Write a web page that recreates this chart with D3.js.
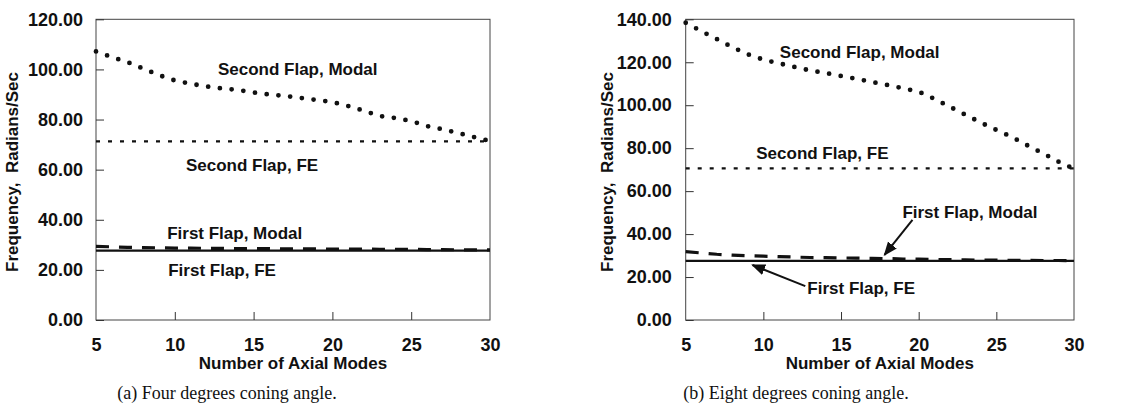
<!DOCTYPE html>
<html>
<head>
<meta charset="utf-8">
<script src="https://cdn.jsdelivr.net/npm/d3@7"></script>
<style>
  body { margin: 0; background: #fff; }
  svg { display: block; }
</style>
</head>
<body>
<script>
// number of axial modes (x values)
var modes = [5, 6, 7, 8, 9, 10, 11, 12, 13, 14, 15, 16, 17, 18, 19, 20, 21, 22, 23, 24, 25, 26, 27, 28, 29, 30];

// (a) four degrees coning angle
var secondModalA = [107.2, 104.9, 102.9, 100.3, 97.7, 95.6, 94.3, 93.2, 92.4, 91.8, 90.8, 90.0, 89.4, 88.6, 87.8, 87.0, 85.4, 83.5, 81.4, 80.6, 79.4, 77.4, 76.1, 74.6, 73.0, 71.4];
var secondFEA    = [71.3, 71.3, 71.3, 71.3, 71.3, 71.3, 71.3, 71.3, 71.3, 71.3, 71.3, 71.3, 71.3, 71.3, 71.3, 71.3, 71.3, 71.3, 71.3, 71.3, 71.3, 71.3, 71.3, 71.3, 71.3, 71.3];
var firstModalA  = [29.4, 29.2, 29.0, 28.9, 28.8, 28.7, 28.7, 28.6, 28.6, 28.5, 28.5, 28.5, 28.4, 28.4, 28.4, 28.3, 28.3, 28.3, 28.2, 28.2, 28.2, 28.1, 28.1, 28.0, 28.0, 28.0];
var firstFEA     = [27.7, 27.7, 27.7, 27.7, 27.7, 27.7, 27.7, 27.7, 27.7, 27.7, 27.7, 27.7, 27.7, 27.7, 27.7, 27.7, 27.7, 27.7, 27.7, 27.7, 27.7, 27.7, 27.7, 27.7, 27.7, 27.7];

// (b) eight degrees coning angle
var secondModalB = [138.4, 134.5, 130.8, 127.0, 123.7, 121.2, 119.5, 117.8, 116.2, 115.0, 113.6, 112.3, 110.8, 109.4, 107.9, 106.3, 103.0, 99.3, 95.6, 91.9, 88.5, 85.2, 81.3, 77.6, 73.7, 70.4];
var secondFEB    = [70.6, 70.6, 70.6, 70.6, 70.6, 70.6, 70.6, 70.6, 70.6, 70.6, 70.6, 70.6, 70.6, 70.6, 70.6, 70.6, 70.6, 70.6, 70.6, 70.6, 70.6, 70.6, 70.6, 70.6, 70.6, 70.6];
var firstModalB  = [31.8, 31.2, 30.6, 30.2, 29.9, 29.7, 29.5, 29.3, 29.1, 29.0, 28.9, 28.8, 28.7, 28.6, 28.4, 28.3, 28.2, 28.1, 28.0, 27.9, 27.9, 27.8, 27.8, 27.7, 27.7, 27.6];
var firstFEB     = [27.5, 27.5, 27.5, 27.5, 27.5, 27.5, 27.5, 27.5, 27.5, 27.5, 27.5, 27.5, 27.5, 27.5, 27.5, 27.5, 27.5, 27.5, 27.5, 27.5, 27.5, 27.5, 27.5, 27.5, 27.5, 27.5];

var xTicks = [5, 10, 15, 20, 25, 30];
var yTicksA = [0, 20, 40, 60, 80, 100, 120];
var yTicksB = [0, 20, 40, 60, 80, 100, 120, 140];

var xTitle = "Number of Axial Modes";
var yTitle = "Frequency,\u00a0\u00a0Radians/Sec";

var svg = d3.select("body").append("svg")
  .attr("width", 1140)
  .attr("height", 415);

svg.append("defs").append("marker")
  .attr("id", "arrow")
  .attr("viewBox", "0 0 10 10")
  .attr("refX", 9).attr("refY", 5)
  .attr("markerWidth", 7).attr("markerHeight", 7)
  .attr("markerUnits", "strokeWidth")
  .attr("orient", "auto")
  .append("path")
  .attr("d", "M0,1 L10,5 L0,9 Z")
  .attr("fill", "#111");

// line styles: width, dash
var styles = {
  secondModal: { w: 4.8, dash: "0,11.8", cap: "round" },
  secondFE:    { w: 2.2, dash: "4,8", cap: "butt" },
  firstModal:  { w: 3.2, dash: "13,10", cap: "butt" },
  firstFE:     { w: 2.2, dash: null, cap: "butt" }
};

var sans = "'Liberation Sans', Arial, sans-serif";

function drawPanel(p) {
  var x = d3.scaleLinear().domain([5, 30]).range([p.left, p.right]);
  var y = d3.scaleLinear().domain([0, p.ymax]).range([p.bottom, p.top]);
  var g = svg.append("g");

  // frame
  g.append("rect")
    .attr("x", p.left).attr("y", p.top)
    .attr("width", p.right - p.left).attr("height", p.bottom - p.top)
    .attr("fill", "none")
    .attr("stroke", "#444")
    .attr("stroke-width", 1);

  var yAxis = g.append("g")
    .attr("transform", "translate(" + p.left + ",0)")
    .call(d3.axisLeft(y).tickValues(p.yTicks).tickSize(-8).tickPadding(p.ypad).tickFormat(d3.format(".2f")));
  var xAxis = g.append("g")
    .attr("transform", "translate(0," + p.bottom + ")")
    .call(d3.axisBottom(x).tickValues(xTicks).tickSize(-8).tickPadding(18).tickFormat(d3.format("d")));

  [yAxis, xAxis].forEach(function (a) {
    a.select(".domain").remove();
    a.selectAll("line").attr("stroke", "#333").attr("stroke-width", 1);
    a.selectAll("text")
      .attr("fill", "#111")
      .style("font-family", sans)
      .style("font-weight", "bold")
      .style("font-size", "18px");
  });
  xAxis.selectAll(".tick").filter(function (d) { return d === 5 || d === 30; }).select("line").remove();

  // axis titles
  g.append("text")
    .attr("x", (p.left + p.right) / 2)
    .attr("y", 369)
    .attr("text-anchor", "middle")
    .style("font-family", sans)
    .style("font-weight", "bold")
    .style("font-size", "17px")
    .attr("fill", "#111")
    .text(xTitle);

  g.append("text")
    .attr("transform", "translate(" + p.ytx + ",172) rotate(-90)")
    .attr("text-anchor", "middle")
    .attr("dy", "0.35em")
    .style("font-family", sans)
    .style("font-weight", "bold")
    .style("font-size", "17px")
    .attr("fill", "#111")
    .text(yTitle);

  // caption
  g.append("text")
    .attr("x", p.capx)
    .attr("y", 399)
    .attr("text-anchor", "middle")
    .style("font-family", "'Liberation Serif', 'DejaVu Serif', serif")
    .style("font-size", "18px")
    .attr("fill", "#111")
    .text(p.caption);

  var line = d3.line()
    .x(function (d) { return x(d[0]); })
    .y(function (d) { return y(d[1]); });

  p.series.forEach(function (s) {
    var st = styles[s.style];
    g.append("path")
      .datum(d3.zip(modes, s.values))
      .attr("d", line)
      .attr("fill", "none")
      .attr("stroke", "#111")
      .attr("stroke-width", st.w)
      .attr("stroke-linecap", st.cap)
      .attr("stroke-dasharray", st.dash);
  });

  p.labels.forEach(function (l) {
    g.append("text")
      .attr("x", x(l.m)).attr("y", y(l.v))
      .attr("dy", "0.35em")
      .attr("text-anchor", "middle")
      .style("font-family", sans)
      .style("font-weight", "bold")
      .style("font-size", "17px")
      .attr("fill", "#111")
      .text(l.text);
  });

  (p.arrows || []).forEach(function (a) {
    g.append("line")
      .attr("x1", x(a[0])).attr("y1", y(a[1]))
      .attr("x2", x(a[2])).attr("y2", y(a[3]))
      .attr("stroke", "#111")
      .attr("stroke-width", 2)
      .attr("marker-end", "url(#arrow)");
  });
}

drawPanel({
  left: 96, right: 490, top: 19.3, bottom: 320, ymax: 120,
  yTicks: yTicksA, ypad: 13, ytx: 12, capx: 227,
  caption: "(a) Four degrees coning angle.",
  series: [
    { values: secondModalA, style: "secondModal" },
    { values: secondFEA, style: "secondFE" },
    { values: firstModalA, style: "firstModal" },
    { values: firstFEA, style: "firstFE" }
  ],
  labels: [
    { text: "Second Flap, Modal", m: 17.8, v: 100.2 },
    { text: "Second Flap, FE", m: 14.9, v: 61.9 },
    { text: "First Flap, Modal", m: 13.8, v: 34.7 },
    { text: "First Flap, FE", m: 13.0, v: 20.0 }
  ]
});

drawPanel({
  left: 685.7, right: 1074, top: 19.3, bottom: 320, ymax: 140,
  yTicks: yTicksB, ypad: 14, ytx: 607, capx: 796,
  caption: "(b) Eight degrees coning angle.",
  series: [
    { values: secondModalB, style: "secondModal" },
    { values: secondFEB, style: "secondFE" },
    { values: firstModalB, style: "firstModal" },
    { values: firstFEB, style: "firstFE" }
  ],
  labels: [
    { text: "Second Flap, Modal", m: 16.2, v: 124.8 },
    { text: "Second Flap, FE", m: 13.8, v: 77.7 },
    { text: "First Flap, Modal", m: 23.3, v: 50.3 },
    { text: "First Flap, FE", m: 16.3, v: 14.9 }
  ],
  arrows: [
    [19.6, 46.6, 17.8, 30.3],
    [12.7, 15.8, 9.3, 25.6]
  ]
});
</script>
</body>
</html>
